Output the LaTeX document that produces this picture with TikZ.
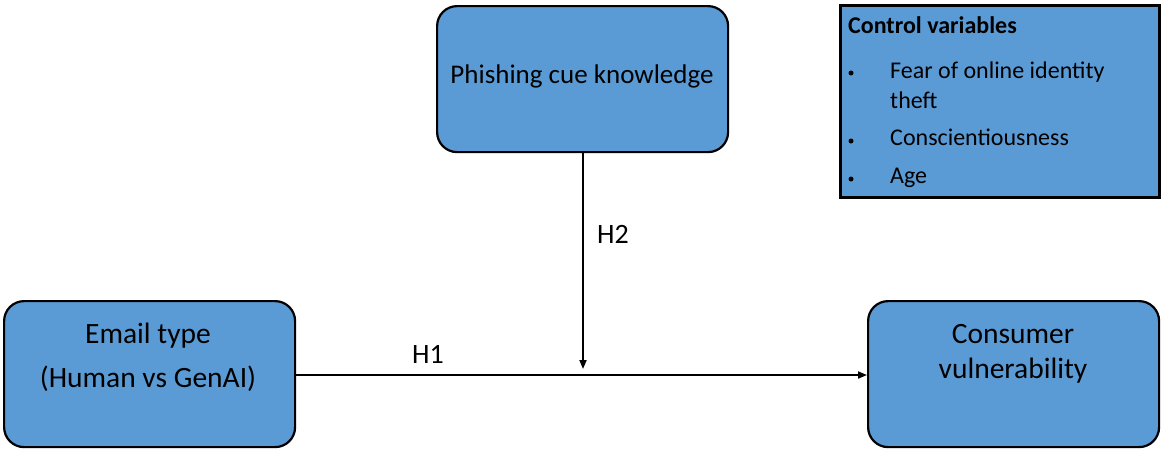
\documentclass[tikz,border=0pt]{standalone}
\usepackage{fontspec}
\setmainfont{Carlito}
\usetikzlibrary{arrows.meta}
\definecolor{boxblue}{HTML}{5B9BD5}
\begin{document}
\begin{tikzpicture}[x=1pt,y=-1pt,
  varbox/.style={draw=black, line width=2.2pt, fill=boxblue, rounded corners=20pt, minimum width=291pt, minimum height=146pt, inner sep=0pt, anchor=north west},
  bigtxt/.style={font=\fontsize{29.5}{36}\selectfont, anchor=base, inner sep=0pt},
  ctrlbox/.style={draw=black, line width=3pt, fill=boxblue, minimum width=319pt, minimum height=192pt, inner sep=0pt, anchor=north west},
  conn/.style={line width=1.8pt, -{Triangle[length=9pt,width=7pt]}},
  lbl/.style={font=\fontsize{28}{32}\selectfont, inner sep=0pt},
  ctxt/.style={font=\fontsize{24}{28}\selectfont, anchor=base west, inner sep=0pt},
  bul/.style={fill=black, circle, inner sep=0pt, minimum size=5pt}
]
\useasboundingbox (0,0) rectangle (1161,448);
\node[varbox] (phish) at (436,5) {};
\node[bigtxt, font=\fontsize{27}{32}\selectfont] (phisht) at (582,83) {Phishing cue knowledge};
\node[varbox] (email) at (3,300) {};
\node[bigtxt] (emailt1) at (148,343) {Email type};
\node[bigtxt] (emailt2) at (148,387) {(Human vs GenAI)};
\node[varbox] (cons) at (867,300) {};
\node[bigtxt] (const1) at (1013,343) {Consumer};
\node[bigtxt] (const2) at (1013,378) {vulnerability};
\node[ctrlbox] (ctrl) at (839,4) {};
\node[ctxt, font=\fontsize{24}{28}\selectfont\bfseries] (ch) at (848,33) {Control variables};
\node[bul] (b1) at (851,73) {};
\node[ctxt] (c1) at (890,78) {Fear of online identity};
\node[ctxt] (c1b) at (890,108) {theft};
\node[bul] (b2) at (851,141) {};
\node[ctxt] (c2) at (890,145) {Conscientiousness};
\node[bul] (b3) at (851,179) {};
\node[ctxt] (c3) at (890,183) {Age};
\coordinate (mid) at (583,369);
\draw[conn] (email.east |- 0,375) -- (cons.west |- 0,375);
\draw[conn] (phish.south -| mid) -- (mid);
\node[lbl] (h2) at (613,234) {H2};
\node[lbl] (h1) at (428,354) {H1};
\end{tikzpicture}
\end{document}
